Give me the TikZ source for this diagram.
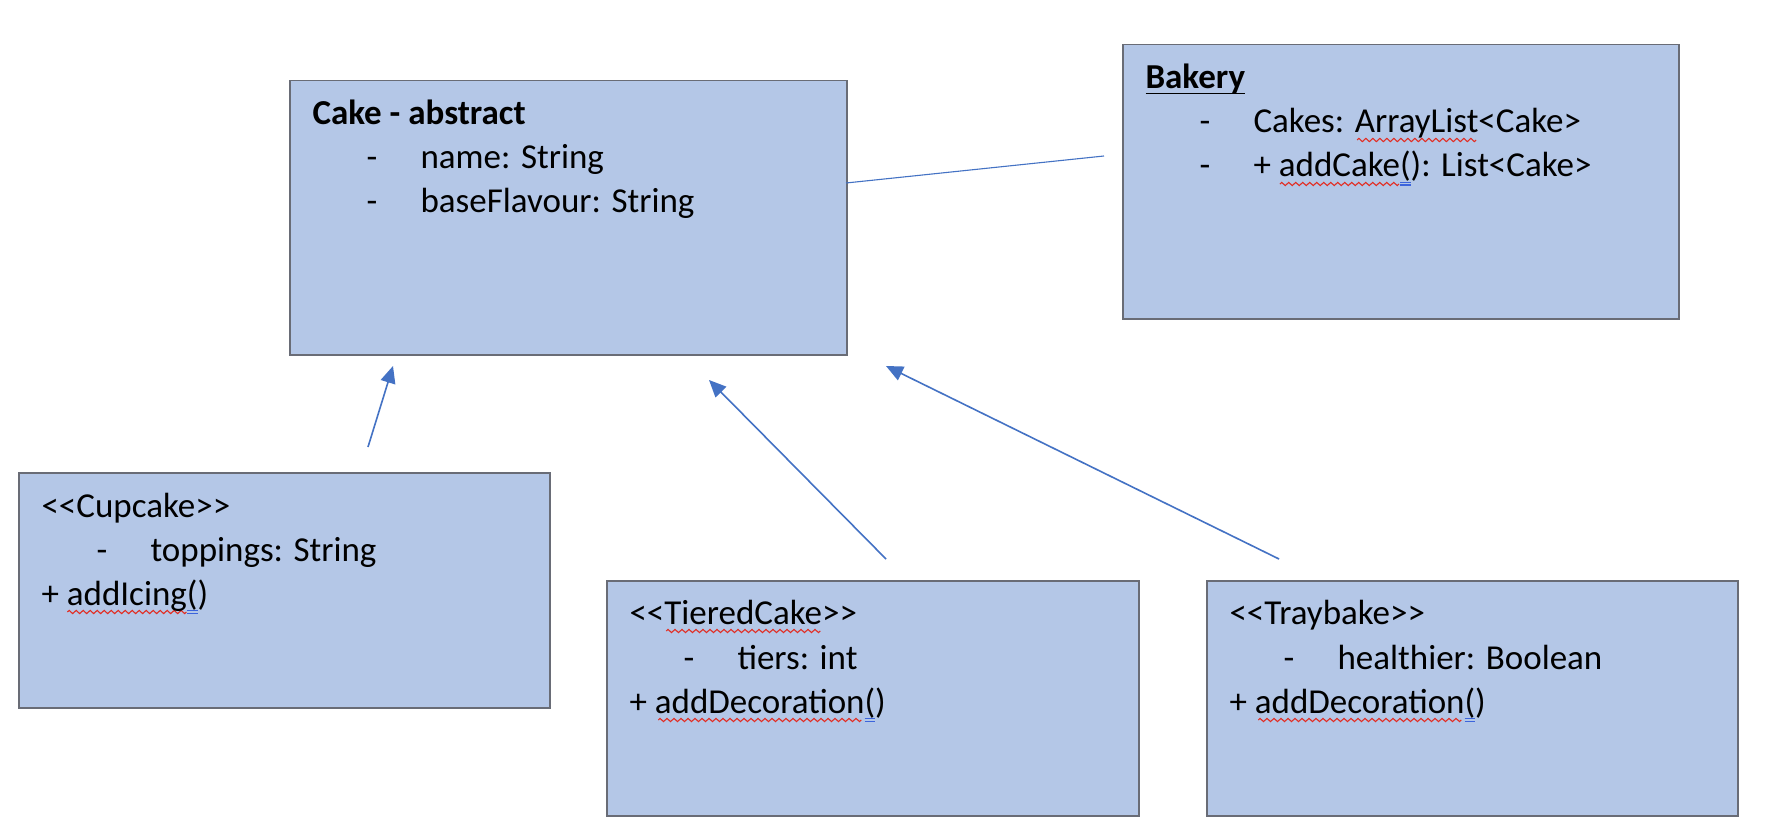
\documentclass[tikz,border=0pt]{standalone}
\usepackage{fontspec}
\setmainfont{Carlito}
\usetikzlibrary{arrows.meta}
\definecolor{boxfill}{RGB}{180,199,231}
\definecolor{boxline}{RGB}{105,108,118}
\definecolor{conn}{RGB}{68,114,196}
\definecolor{squig}{RGB}{226,45,35}
\definecolor{dblblue}{RGB}{60,100,220}
\newsavebox\wavebox
\newcommand\mkwave{\sbox\wavebox{\begin{pgfpicture}\pgfsetlinewidth{1.1pt}\pgfsetstrokecolor{squig}\pgfpathmoveto{\pgfpoint{0pt}{0pt}}\pgfpathsine{\pgfpoint{1.75pt}{1.6pt}}\pgfpathcosine{\pgfpoint{1.75pt}{-1.6pt}}\pgfpathsine{\pgfpoint{1.75pt}{-1.6pt}}\pgfpathcosine{\pgfpoint{1.75pt}{1.6pt}}\pgfusepath{stroke}\pgfresetboundingbox\pgfpathrectangle{\pgfpointorigin}{\pgfpoint{7pt}{0pt}}\pgfusepath{use as bounding box}\end{pgfpicture}}}
\newcommand\redwave[1]{\setbox0\hbox{#1}\rlap{\lower7pt\hbox to\wd0{\cleaders\copy\wavebox\hfill}}\box0}
\newcommand\dblu[1]{\setbox0\hbox{#1}\rlap{\textcolor{dblblue}{\rule[-6pt]{\wd0}{1.1pt}}}\rlap{\textcolor{dblblue}{\rule[-8.6pt]{\wd0}{1.1pt}}}\box0}
\newcommand\ulbar[1]{\setbox0\hbox{#1}\rlap{\rule[-5.5pt]{\wd0}{1.8pt}}\box0}
\newcommand\lla{<\kern0pt<}
\newcommand\rra{>\kern0pt>}
\begin{document}
\begin{tikzpicture}[x=1pt,y=-1pt,
  umlbox/.style={draw=boxline, fill=boxfill, line width=1.5pt, inner sep=0pt, anchor=north west},
  txt/.style={anchor=base west, inner sep=0pt, font=\fontsize{35}{42}\selectfont},
  gen/.style={draw=conn, line width=1.6pt, -{Triangle[length=17pt,width=15pt]}, fill=conn},
  assoc/.style={draw=conn, line width=1.1pt}]
\mkwave
\fill[white] (0,0) rectangle (1772,834);
\useasboundingbox (0,0) rectangle (1772,834);

% boxes
\node[umlbox, minimum width=557pt, minimum height=274pt] (cake) at (289,80) {};
\node[umlbox, minimum width=556pt, minimum height=274pt] (bakery) at (1122,44) {};
\node[umlbox, minimum width=531pt, minimum height=235pt] (cupcake) at (18,472) {};
\node[umlbox, minimum width=532pt, minimum height=235pt] (tiered) at (606,580) {};
\node[umlbox, minimum width=531pt, minimum height=235pt] (tray) at (1206,580) {};

% Cake
\node[txt] (cakeT) at (312,125) {\bfseries Cake - abstract};
\node[txt] (cakeD1) at (366,169) {-};
\node[txt] (cakeA1) at (420,169) {name: String};
\node[txt] (cakeD2) at (366,213) {-};
\node[txt] (cakeA2) at (420,213) {baseFlavour: String};

% Bakery
\node[txt] (bakT) at (1145,89) {\bfseries\ulbar{Bakery}};
\node[txt] (bakD1) at (1199,133) {-};
\node[txt] (bakA1) at (1253,133) {Cakes: \redwave{ArrayList}<Cake>};
\node[txt] (bakD2) at (1199,177) {-};
\node[txt] (bakA2) at (1253,177) {+ \redwave{addCake}\dblu{(}): List<Cake>};

% Cupcake
\node[txt] (cupT) at (41,517) {\lla Cupcake\rra};
\node[txt] (cupD1) at (96,561) {-};
\node[txt] (cupA1) at (150,561) {toppings: String};
\node[txt] (cupM1) at (41,605) {+ \redwave{addIcing}\dblu{(})};

% TieredCake
\node[txt] (tieT) at (629,624) {\lla\redwave{TieredCake}\rra};
\node[txt] (tieD1) at (683,669) {-};
\node[txt] (tieA1) at (737,669) {tiers: int};
\node[txt] (tieM1) at (629,713) {+ \redwave{addDecoration}\dblu{(})};

% Traybake
\node[txt] (trT) at (1229,624) {\lla Traybake\rra};
\node[txt] (trD1) at (1283,669) {-};
\node[txt] (trA1) at (1337,669) {healthier: Boolean};
\node[txt] (trM1) at (1229,713) {+ \redwave{addDecoration}\dblu{(})};

% connector ends
\coordinate (asA) at (846,183);
\coordinate (asB) at (1104,156);
\coordinate (g1s) at (368,447);
\coordinate (g1e) at (393,366);
\coordinate (g2s) at (886,559);
\coordinate (g2e) at (709,380);
\coordinate (g3s) at (1279,559);
\coordinate (g3e) at (886,366);

\draw[assoc] (asA) -- (asB);
\draw[gen] (g1s) -- (g1e);
\draw[gen] (g2s) -- (g2e);
\draw[gen] (g3s) -- (g3e);
\end{tikzpicture}
\end{document}
